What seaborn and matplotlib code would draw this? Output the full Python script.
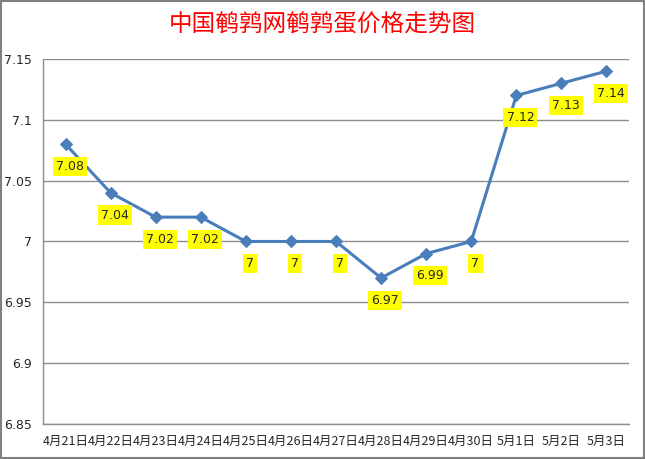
import matplotlib
matplotlib.use("Agg")
import matplotlib.pyplot as plt
import seaborn as sns
import pandas as pd

# data
dates = ['4月21日', '4月22日', '4月23日', '4月24日', '4月25日', '4月26日', '4月27日',
         '4月28日', '4月29日', '4月30日', '5月1日', '5月2日', '5月3日']
prices = [7.08, 7.04, 7.02, 7.02, 7.00, 7.00, 7.00, 6.97, 6.99, 7.00, 7.12, 7.13, 7.14]
price_labels = ['7.08', '7.04', '7.02', '7.02', '7', '7', '7', '6.97', '6.99', '7', '7.12', '7.13', '7.14']
y_ticks = [6.85, 6.9, 6.95, 7.0, 7.05, 7.1, 7.15]
y_tick_labels = ['6.85', '6.9', '6.95', '7', '7.05', '7.1', '7.15']

df = pd.DataFrame({'date': dates, 'price': prices})
df['pos'] = range(len(df))

sns.set_style('white')
plt.rcParams['font.family'] = ['Noto Sans CJK SC', 'DejaVu Sans']

fig = plt.figure(figsize=(6.45, 4.59), dpi=100)
ax = fig.add_axes([0.0667, 0.0763, 0.9085, 0.7952])

sns.lineplot(data=df, x='pos', y='price', ax=ax, color='#4a7ebb', linewidth=2.2,
             marker='D', markersize=6, markeredgecolor='#4a7ebb')

for i, (p, lab) in enumerate(zip(prices, price_labels)):
    ax.annotate(lab, (i, p), xytext=(3, -16), textcoords='offset points',
                ha='center', va='center', fontsize=9, family=['DejaVu Sans'],
                bbox=dict(boxstyle='square,pad=0.25', fc='#ffff00', ec='none'))

ax.set_xlim(-0.5, len(dates) - 0.5)
ax.set_ylim(6.85, 7.15)
ax.set_xticks(range(len(dates)))
ax.set_xticklabels(dates, fontsize=9)
ax.set_yticks(y_ticks)
ax.set_yticklabels(y_tick_labels, fontsize=9, family=['DejaVu Sans'])
ax.tick_params(axis='both', length=0, pad=8)
ax.grid(axis='y', color='#8c8c8c', linewidth=1)
ax.set_axisbelow(True)
ax.set_xlabel('')
ax.set_ylabel('')
for side in ['top', 'right']:
    ax.spines[side].set_visible(False)
for side in ['left', 'bottom']:
    ax.spines[side].set_color('#8c8c8c')
    ax.spines[side].set_linewidth(1)

fig.text(0.5, 0.945, '中国鹌鹑网鹌鹑蛋价格走势图', ha='center', va='center',
         fontsize=17, color='#ff0000')

# outer grey frame
fig.patches.append(plt.Rectangle((0.002, 0.002), 0.996, 0.996, transform=fig.transFigure,
                                 fill=False, edgecolor='#808080', linewidth=1.5))

fig.savefig('out.png', dpi=100)
